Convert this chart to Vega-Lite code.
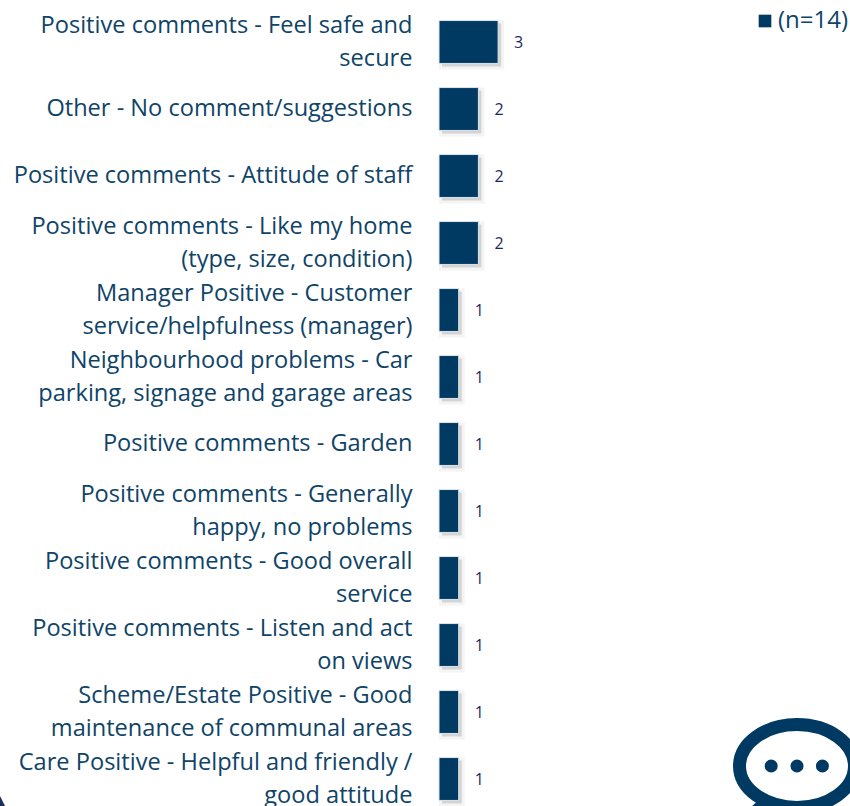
{"$schema":"https://vega.github.io/schema/vega-lite/v6.json","autosize":{"type":"none"},"padding":{"left":439,"top":8,"right":0,"bottom":0},"width":411,"height":798,"background":"white","config":{"view":{"stroke":null}},"datasets":{"bars":[{"label":"Positive comments - Feel safe and\nsecure","value":3,"series":"(n=14)"},{"label":"Other - No comment/suggestions","value":2,"series":"(n=14)"},{"label":"Positive comments - Attitude of staff","value":2,"series":"(n=14)"},{"label":"Positive comments - Like my home\n(type, size, condition)","value":2,"series":"(n=14)"},{"label":"Manager Positive - Customer\nservice/helpfulness (manager)","value":1,"series":"(n=14)"},{"label":"Neighbourhood problems - Car\nparking, signage and garage areas","value":1,"series":"(n=14)"},{"label":"Positive comments - Garden","value":1,"series":"(n=14)"},{"label":"Positive comments - Generally\nhappy, no problems","value":1,"series":"(n=14)"},{"label":"Positive comments - Good overall\nservice","value":1,"series":"(n=14)"},{"label":"Positive comments - Listen and act\non views","value":1,"series":"(n=14)"},{"label":"Scheme/Estate Positive - Good\nmaintenance of communal areas","value":1,"series":"(n=14)"},{"label":"Care Positive - Helpful and friendly /\ngood attitude","value":1,"series":"(n=14)"}],"dots":[{"px":16.86,"py":758},{"px":18.17,"py":758},{"px":19.46,"py":758}],"bubble":[{"px":18.17,"py":758}],"tail":[{"px":16.4,"py":798}],"corner":[{"px":-22.28,"py":798}]},"layer":[{"data":{"name":"bars"},"layer":[{"mark":{"type":"bar","color":"#9a9a9a","opacity":0.1,"stroke":"#9a9a9a","strokeWidth":6,"xOffset":3,"x2Offset":3,"yOffset":3,"y2Offset":3},"encoding":{"y":{"field":"label","type":"nominal","sort":null,"scale":{"range":[0.5,804.5],"paddingInner":0.36,"paddingOuter":0.18},"axis":{"title":null,"domain":false,"ticks":false,"labelPadding":27,"labelFont":"Open Sans","labelFontSize":23.6,"labelColor":"#0f4468","labelLimit":0,"labelLineHeight":33,"labelOffset":{"condition":{"test":"indexof(datum.value,'\\n')>=0","value":-16.5},"value":0},"labelExpr":"split(datum.label,'\\n')"}},"x":{"field":"value","type":"quantitative","scale":{"domain":[0,20.86],"nice":false},"axis":null}}},{"mark":{"type":"bar","color":"#8a8a8a","opacity":0.3,"xOffset":3,"x2Offset":3,"yOffset":3,"y2Offset":3},"encoding":{"y":{"field":"label","type":"nominal","sort":null},"x":{"field":"value","type":"quantitative","axis":null}}},{"mark":{"type":"bar","stroke":"#dde5ea","strokeWidth":1},"encoding":{"y":{"field":"label","type":"nominal","sort":null},"x":{"field":"value","type":"quantitative","axis":null},"color":{"field":"series","type":"nominal","scale":{"range":["#003a63"]},"legend":{"title":null,"orient":"none","legendX":314,"legendY":1,"symbolType":"square","symbolSize":160,"symbolStrokeWidth":0,"labelFont":"Open Sans","labelFontSize":24,"labelColor":"#0f4468","labelOffset":1}}}},{"mark":{"type":"text","align":"left","baseline":"middle","dx":16,"dy":1,"font":"Open Sans","fontSize":16,"color":"#1e2860"},"encoding":{"y":{"field":"label","type":"nominal","sort":null},"x":{"field":"value","type":"quantitative","axis":null},"text":{"field":"value","type":"quantitative"}}}]},{"layer":[{"data":{"name":"bubble"},"mark":{"type":"point","clip":false,"filled":false,"stroke":"#003a63","strokeWidth":13,"opacity":1,"size":13225,"shape":"M-1,0A1,0.72,0,1,0,1,0A1,0.72,0,1,0,-1,0Z"},"encoding":{"x":{"field":"px","type":"quantitative","axis":null},"y":{"field":"py","type":"quantitative","axis":null,"scale":{"domain":[0,798],"reverse":true,"nice":false}}}},{"data":{"name":"dots"},"mark":{"type":"point","clip":false,"filled":true,"shape":"circle","color":"#003a63","opacity":1,"size":170},"encoding":{"x":{"field":"px","type":"quantitative","axis":null},"y":{"field":"py","type":"quantitative","axis":null,"scale":{"domain":[0,798],"reverse":true,"nice":false}}}},{"data":{"name":"tail"},"mark":{"type":"point","clip":false,"filled":true,"color":"#003a63","opacity":1,"size":400,"shape":"M-1,0L0,-0.9L1.3,0Z"},"encoding":{"x":{"field":"px","type":"quantitative","axis":null},"y":{"field":"py","type":"quantitative","axis":null,"scale":{"domain":[0,798],"reverse":true,"nice":false}}}},{"data":{"name":"corner"},"mark":{"type":"point","clip":false,"filled":true,"color":"#1e2d5c","opacity":1,"size":400,"shape":"M0,-1L0.5,0L0,0Z"},"encoding":{"x":{"field":"px","type":"quantitative","axis":null},"y":{"field":"py","type":"quantitative","axis":null,"scale":{"domain":[0,798],"reverse":true,"nice":false}}}}]}],"resolve":{"scale":{"y":"independent"}}}
